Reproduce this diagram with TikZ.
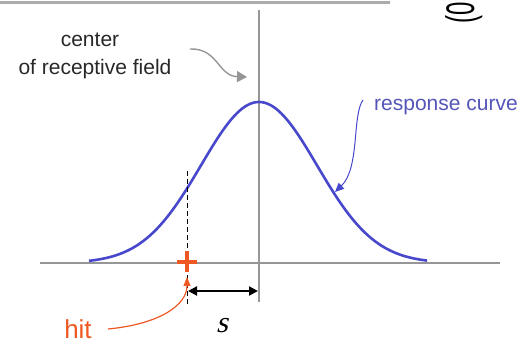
\documentclass[tikz,border=0pt]{standalone}
\usepackage{fontspec}
\usepackage{graphicx}
\setmainfont{Liberation Sans}
\newfontfamily\slantfam[FakeSlant=0.25]{Liberation Serif}
\usetikzlibrary{arrows.meta}
\definecolor{axisgray}{RGB}{150,150,150}
\definecolor{curveblue}{RGB}{72,72,205}
\definecolor{labelblue}{RGB}{85,85,185}
\definecolor{hitorange}{RGB}{238,88,34}
\definecolor{textgray}{RGB}{40,40,40}
\tikzset{
  axisline/.style={draw=axisgray, line width=2.4pt},
  topline/.style={draw=axisgray!80, line width=3pt},
  curveline/.style={draw=curveblue, line width=2.6pt},
  lbl/.style={font=\fontsize{21}{26}\selectfont, text=textgray, inner sep=0pt},
  bluelbl/.style={font=\fontsize{21}{26}\selectfont, text=labelblue, inner sep=0pt},
  hitlbl/.style={font=\fontsize{26}{30}\selectfont, text=hitorange, inner sep=0pt},
  grayarrow/.style={draw=axisgray, line width=1.4pt, -{Triangle[length=10pt,width=11pt]}},
  bluearrow/.style={draw=curveblue, line width=1pt, -{Triangle[length=9pt,width=8pt]}},
  hitarrow/.style={draw=hitorange, line width=1.2pt, -{Triangle[length=9pt,width=7pt]}},
  distarrow/.style={draw=black, line width=2pt, {Triangle[length=9pt,width=9pt]}-{Triangle[length=9pt,width=9pt]}},
  dashline/.style={draw=black, line width=1pt, dash pattern=on 5pt off 3pt},
  plusmark/.style={draw=hitorange, line width=4pt}
}
\begin{document}
\begin{tikzpicture}[x=1pt,y=-1pt]
\useasboundingbox (0,0) rectangle (524,344);
% top rule (cropped slide edge)
\draw[topline] (0,3) -- (390,3);
% cropped rotated text at top right
\node[font=\fontsize{40}{44}\selectfont, rotate=90, anchor=base west, inner sep=0pt] (cut) at (474,24) {\scalebox{0.6}[1]{(0}};
% axes
\coordinate (xl) at (40,263);
\coordinate (xr) at (500,263);
\coordinate (yt) at (259,10);
\coordinate (yb) at (259,302);
\draw[axisline] (xl) -- (xr);
\draw[axisline] (yt) -- (yb);
% response curve
\draw[curveline] plot[domain=-170:168, samples=140, smooth] ({259+\x},{263-161*exp(-0.5*(\x/58)*(\x/58))});
% hit position
\coordinate (dtop) at (187,171);
\coordinate (dbot) at (187,304);
\draw[dashline] (dtop) -- (dbot);
\coordinate (hit) at (187,262);
\draw[plusmark] ([xshift=-10pt]hit) -- ([xshift=10pt]hit);
\draw[plusmark] ([yshift=-10pt]hit) -- ([yshift=11pt]hit);
% distance s
\coordinate (sl) at (188,291);
\coordinate (sr) at (258,291);
\draw[distarrow] (sl) -- (sr);
\node[anchor=base, inner sep=0pt] (s) at (222,332) {\slantfam\fontsize{30}{32}\selectfont s};
% labels
\node[lbl, anchor=base] (c1) at (90,47) {center};
\node[lbl, anchor=base] (c2) at (95,75) {of receptive field};
\node[bluelbl, anchor=base] (rc) at (446,111) {response curve};
\node[hitlbl, anchor=base] (hitlabel) at (78,338) {hit};
% pointer arrows
\coordinate (ga) at (190,49);
\coordinate (gb) at (247,77);
\draw[grayarrow] (ga) .. controls (218,48) and (218,76) .. (gb);
\coordinate (ba) at (363,100);
\coordinate (bb) at (335,192);
\draw[bluearrow] (ba) .. controls (352,115) and (360,168) .. (bb);
\coordinate (ha) at (108,329);
\coordinate (hb) at (187,277);
\draw[hitarrow] (ha) .. controls (160,324) and (187,305) .. (hb);
\end{tikzpicture}
\end{document}
